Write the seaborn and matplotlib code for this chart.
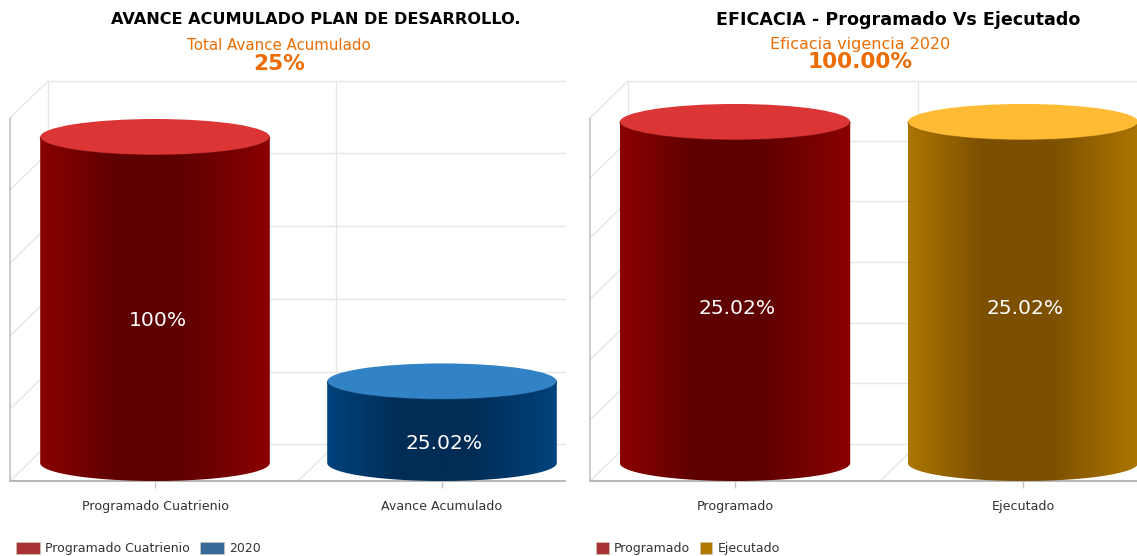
import numpy as np
import pandas as pd
import matplotlib
matplotlib.use("Agg")
import matplotlib.pyplot as plt
import seaborn as sns
from matplotlib.colors import LinearSegmentedColormap
from matplotlib.patches import Arc, Ellipse, Patch, Polygon

# ---- data ----
left_categories = ["Programado Cuatrienio", "Avance Acumulado"]
left_values = [100, 25.02]
left_labels = ["100%", "25.02%"]
left_legend = ["Programado Cuatrienio", "2020"]
right_categories = ["Programado", "Ejecutado"]
right_values = [25.02, 25.02]
right_labels = ["25.02%", "25.02%"]
right_legend = ["Programado", "Ejecutado"]

W, H = 1137, 556
RED = dict(edge="#8b0000", mid="#5f0000", top="#dc3535", legend="#a83236")
BLUE = dict(edge="#00437d", mid="#002c55", top="#3282c6", legend="#386a99")
GOLD = dict(edge="#ad7600", mid="#7c5000", top="#ffbb33", legend="#b07800")

sns.set_theme(style="white", font="DejaVu Sans")
fig = plt.figure(figsize=(W / 100, H / 100), dpi=100)
deco = fig.add_axes([0, 0, 1, 1], zorder=0)
deco.set_xlim(0, W)
deco.set_ylim(H, 0)
deco.axis("off")


def px_axes(x0, y0, x1, y1):
    return fig.add_axes([x0 / W, 1 - y1 / H, (x1 - x0) / W, (y1 - y0) / H], zorder=2)


def walls(x0, x1, back_rows, back_verticals, floor_diags):
    grid = "#e6e6e6"
    dx, dy = 38, 37
    for y in back_rows:
        deco.plot([x0 + dx, x1], [y, y], color=grid, lw=1)
        deco.plot([x0, x0 + dx], [y + dy, y], color=grid, lw=1)
    deco.plot([x0 + dx, x0 + dx], [back_rows[0], back_rows[-1]], color=grid, lw=1)
    for xv in back_verticals:
        deco.plot([xv, xv], [back_rows[0], back_rows[-1]], color=grid, lw=1)
    for xv in floor_diags:
        deco.plot([xv - dx, xv], [481, 444], color=grid, lw=1)
    deco.plot([x0, x0], [back_rows[0] + dy, 481], color="#c4c4c4", lw=1.2)
    deco.plot([x0, x1], [481, 481], color="#b4b4b4", lw=1.4)


def cylinders(rect, scale, cats, vals, labels, palette, label_drop):
    """rect: axes box in px; scale: px per value unit; floor of the bars 18 px above the axes bottom."""
    x0, y0, x1, y1 = rect
    ax = px_axes(x0, y0, x1, y1)
    ax.patch.set_alpha(0)
    ry = 18 / scale
    df = pd.DataFrame({"cat": cats, "val": vals})
    sns.barplot(data=df, x="cat", y="val", hue="cat", palette=[p["edge"] for p in palette],
                width=0.8, legend=False, ax=ax, zorder=1)
    ax.set_xlim(-0.5, 1.5)
    ax.set_ylim(-ry, (y1 - y0 - 18) / scale)
    for bar, p, lab in zip(ax.patches, palette, labels):
        bx, bw, h = bar.get_x(), bar.get_width(), bar.get_height()
        bar.set_visible(False)
        cx = bx + bw / 2
        cmap = LinearSegmentedColormap.from_list(
            "c", [(0, p["edge"]), (0.32, p["mid"]), (0.62, p["mid"]), (1, p["edge"])])
        img = ax.imshow(np.linspace(0, 1, 256)[None, :], cmap=cmap, aspect="auto",
                        extent=[bx, bx + bw, -ry, h], zorder=2)
        t = np.linspace(np.pi, 2 * np.pi, 80)
        outline = np.r_[np.c_[cx + bw / 2 * np.cos(t), ry * np.sin(t)], [[bx + bw, h], [bx, h]]]
        clip = Polygon(outline, closed=True, transform=ax.transData, fc="none", ec="none")
        ax.add_patch(clip)
        img.set_clip_path(clip)
        ax.add_patch(Ellipse((cx, h), bw, 2 * ry, fc=p["top"], ec="none", zorder=3))
        ax.add_patch(Arc((cx, h), bw, 2 * ry, theta1=180, theta2=360, color=p["mid"],
                         lw=0.8, alpha=0.55, zorder=3))
        ax.annotate(lab, (cx, h / 2), xytext=(2.5 * 0.72, -label_drop * 0.72), textcoords="offset points",
                    ha="center", va="center", color="white", fontsize=14.6, zorder=4)
    ax.set_xlim(-0.5, 1.5)
    ax.set_ylim(-ry, (y1 - y0 - 18) / scale)
    ax.set_xlabel("")
    ax.set_ylabel("")
    ax.set_yticks([])
    ax.grid(False)
    sns.despine(ax=ax, left=True, bottom=True)
    ax.tick_params(axis="x", length=5, width=1, color="#c4c4c4", labelsize=9.1,
                   labelcolor="#333333", pad=9, bottom=True)
    return ax


def legend(ax, palette, names, px_x, px_y, length, height, textpad, colspace):
    handles = [Patch(fc=p["legend"], ec="#c9c9b8", lw=0.5) for p in palette]
    ax.legend(handles, names, loc="lower left", bbox_to_anchor=(px_x / W, 1 - px_y / H),
              bbox_transform=fig.transFigure, ncols=2, frameon=False, fontsize=9.0,
              labelcolor="#333333", borderpad=0, borderaxespad=0, handlelength=length,
              handleheight=height, handletextpad=textpad, columnspacing=colspace)


# left panel
walls(10, 565, [81, 153, 226, 299, 372, 444], [336], [336])
left = cylinders((11.5, 56, 585.5, 481), 3.26, left_categories, left_values, left_labels,
                 [RED, BLUE], 21)
legend(left, [RED, BLUE], left_legend, 16, 555, 1.9, 1.1, 0.45, 0.78)

# right panel
walls(590, 1137, [81, 141, 201, 262, 323, 383, 444], [918], [918])
right = cylinders((591, 56, 1167, 481), 13.63, right_categories, right_values, right_labels,
                  [RED, GOLD], 16)
legend(right, [RED, GOLD], right_legend, 596, 555, 1.0, 1.1, 0.42, 0.8)

# titles
deco.text(316, 20, "AVANCE ACUMULADO PLAN DE DESARROLLO.", ha="center", va="center",
          fontsize=11.6, fontweight="bold", color="black")
deco.text(279, 46, "Total Avance Acumulado", ha="center", va="center", fontsize=10.8, color="#ed6c02")
deco.text(279, 64, "25%", ha="center", va="center", fontsize=15.6, fontweight="bold", color="#ed6c02")
deco.text(898, 20, "EFICACIA - Programado Vs Ejecutado", ha="center", va="center",
          fontsize=12.65, fontweight="bold", color="black")
deco.text(860, 44, "Eficacia vigencia 2020", ha="center", va="center", fontsize=11.5, color="#ed6c02")
deco.text(860, 62, "100.00%", ha="center", va="center", fontsize=15.6, fontweight="bold", color="#ed6c02")

fig.savefig("out.png", dpi=100)
